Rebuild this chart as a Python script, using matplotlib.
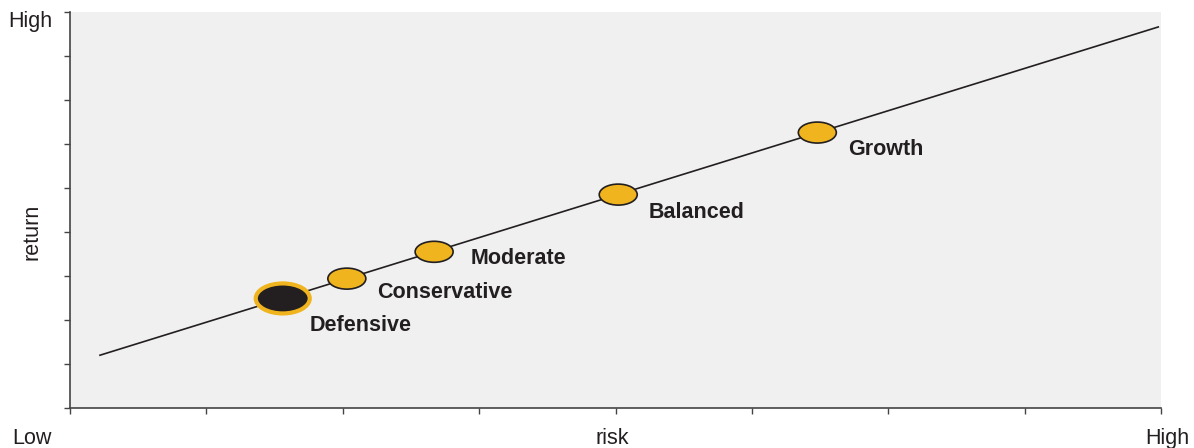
import matplotlib
matplotlib.use("Agg")
import matplotlib.pyplot as plt
from matplotlib.patches import Ellipse

plt.rcParams['font.family'] = ['Liberation Sans', 'DejaVu Sans']

# Portfolio profiles along the risk/return line
profiles = ["Defensive", "Conservative", "Moderate", "Balanced", "Growth"]
risk = [1.56, 2.03, 2.67, 4.02, 5.48]
ret = [2.49, 2.94, 3.55, 4.85, 6.26]

# Risk/return trend line end points
line_risk = [0.22, 7.98]
line_ret = [1.20, 8.66]

# Label offsets in pixels (dx, dy) relative to each marker
label_offsets = [(27, -27), (30, -14), (37, -7), (30, -18), (31, -17)]

GOLD = "#f0b41e"
DARK = "#231f20"
LABEL_SIZE = 15.5

fig = plt.figure(figsize=(11.94, 4.48), dpi=100)
ax = fig.add_axes([70 / 1194, 40 / 448, 1091 / 1194, 396 / 448])
ax.set_facecolor("#f0f0f0")
ax.set_xlim(0, 8)
ax.set_ylim(0, 9)

ax.plot(line_risk, line_ret, color=DARK, lw=1.2, zorder=2)

px_x = 8 / 1091
px_y = 9 / 396
for i, (name, x, y) in enumerate(zip(profiles, risk, ret)):
    if i == 0:
        e = Ellipse((x, y), 54 * px_x, 30 * px_y, facecolor=DARK,
                    edgecolor=GOLD, lw=3, zorder=3)
    else:
        e = Ellipse((x, y), 38 * px_x, 21 * px_y, facecolor=GOLD,
                    edgecolor=DARK, lw=1.2, zorder=3)
    ax.add_patch(e)
    dx, dy = label_offsets[i]
    ax.annotate(name, (x, y), xytext=(dx * 0.72, dy * 0.72),
                textcoords="offset points", ha="left", va="center",
                fontsize=LABEL_SIZE, fontweight="bold", color=DARK)

for s in ["top", "right"]:
    ax.spines[s].set_visible(False)
for s in ["left", "bottom"]:
    ax.spines[s].set_color("#444444")
    ax.spines[s].set_linewidth(1.2)

ax.set_xticks(range(0, 9))
ax.set_yticks(range(0, 10))
ax.set_xticklabels([])
ax.set_yticklabels([])
ax.tick_params(direction="out", length=4, width=1, color="#444444")

AXIS_SIZE = 15.5
fig.text(30 / 1194, 1 - 21 / 448, "High", ha="center", va="center",
         fontsize=AXIS_SIZE, color=DARK)
fig.text(32 / 1194, 1 - 232 / 448, "return", ha="center", va="center",
         rotation=90, fontsize=AXIS_SIZE, color=DARK)
fig.text(32 / 1194, 1 - 438 / 448, "Low", ha="center", va="center",
         fontsize=AXIS_SIZE, color=DARK)
fig.text(612 / 1194, 1 - 438 / 448, "risk", ha="center", va="center",
         fontsize=AXIS_SIZE, color=DARK)
fig.text(1167 / 1194, 1 - 438 / 448, "High", ha="center", va="center",
         fontsize=AXIS_SIZE, color=DARK)

fig.savefig("out.png", dpi=100, facecolor="white")
